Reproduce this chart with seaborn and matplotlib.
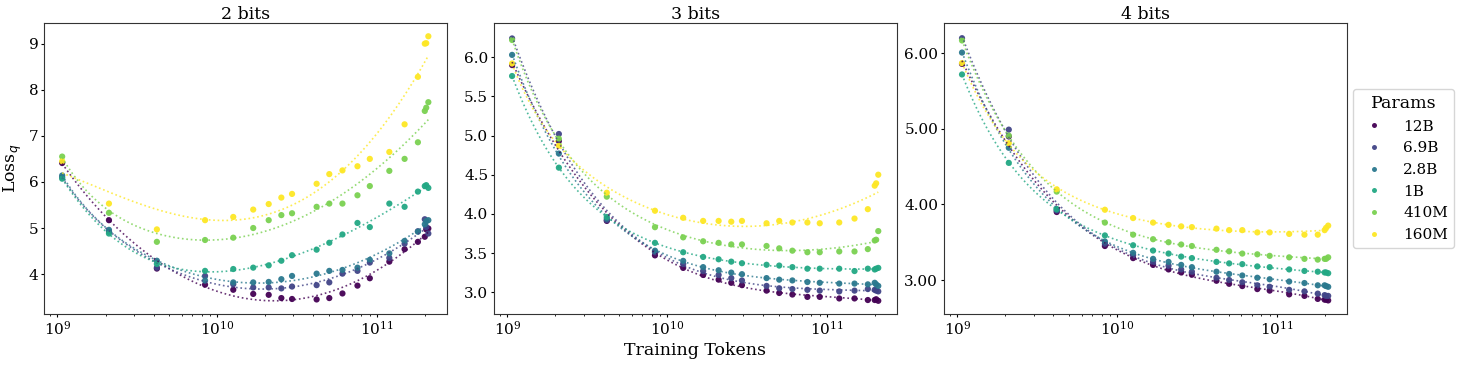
import numpy as np
import pandas as pd
import matplotlib
matplotlib.use("Agg")
import matplotlib.pyplot as plt
from matplotlib.ticker import MultipleLocator, FormatStrFormatter
import seaborn as sns

# training tokens (billions) at each checkpoint
tokens_b = [1.07, 2.10, 4.19, 8.39, 12.6, 16.8, 21.0, 25.2, 29.4, 41.9,
            50.3, 60.8, 75.5, 90.2, 119.5, 148.9, 180.4, 199.2, 203.4, 209.7]

params = ["12B", "6.9B", "2.8B", "1B", "410M", "160M"]

# loss after quantization, 2 bits
loss_2bit = {
    "12B":  [6.41, 5.17, 4.12, 3.77, 3.66, 3.57, 3.55, 3.48, 3.46, 3.45,
             3.48, 3.58, 3.75, 3.91, 4.27, 4.54, 4.70, 4.81, 4.97, 4.99],
    "6.9B": [6.10, 4.92, 4.14, 3.96, 3.78, 3.71, 3.71, 3.69, 3.73, 3.76,
             3.82, 4.01, 4.07, 4.25, 4.35, 4.66, 4.93, 5.19, 5.02, 4.88],
    "2.8B": [6.14, 4.96, 4.29, 3.86, 3.82, 3.82, 3.83, 3.89, 3.96, 4.01,
             4.07, 4.09, 4.14, 4.31, 4.45, 4.72, 4.92, 5.08, 5.15, 5.17],
    "1B":   [6.07, 4.88, 4.22, 4.07, 4.11, 4.14, 4.19, 4.29, 4.41, 4.53,
             4.68, 4.86, 5.11, 5.02, 5.53, 5.46, 5.79, 5.91, 5.93, 5.87],
    "410M": [6.55, 5.33, 4.70, 4.74, 4.79, 5.00, 5.17, 5.28, 5.32, 5.46,
             5.53, 5.53, 5.71, 5.91, 6.24, 6.50, 6.86, 7.54, 7.61, 7.73],
    "160M": [6.45, 5.53, 4.97, 5.17, 5.24, 5.40, 5.52, 5.66, 5.74, 5.96,
             6.17, 6.25, 6.34, 6.50, 6.65, 7.25, 8.28, 9.00, 9.01, 9.16],
}

# 3 bits
loss_3bit = {
    "12B":  [5.90, 4.93, 3.91, 3.47, 3.31, 3.22, 3.16, 3.12, 3.09, 3.02,
             2.99, 2.97, 2.94, 2.94, 2.92, 2.92, 2.90, 2.90, 2.91, 2.89],
    "6.9B": [6.24, 5.02, 3.92, 3.51, 3.36, 3.27, 3.22, 3.18, 3.15, 3.08,
             3.05, 3.04, 3.03, 3.02, 3.01, 3.02, 3.04, 3.03, 3.02, 3.01],
    "2.8B": [6.03, 4.77, 3.94, 3.53, 3.40, 3.32, 3.28, 3.25, 3.23, 3.18,
             3.16, 3.15, 3.13, 3.12, 3.11, 3.11, 3.10, 3.12, 3.10, 3.08],
    "1B":   [5.76, 4.59, 3.96, 3.63, 3.51, 3.45, 3.42, 3.39, 3.37, 3.35,
             3.34, 3.32, 3.30, 3.30, 3.30, 3.27, 3.30, 3.29, 3.30, 3.31],
    "410M": [6.22, 4.96, 4.22, 3.83, 3.70, 3.65, 3.63, 3.61, 3.61, 3.59,
             3.56, 3.53, 3.51, 3.51, 3.52, 3.52, 3.55, 3.66, 3.67, 3.78],
    "160M": [5.92, 4.87, 4.27, 4.04, 3.95, 3.91, 3.91, 3.90, 3.91, 3.88,
             3.91, 3.89, 3.89, 3.88, 3.89, 3.94, 4.06, 4.36, 4.39, 4.50],
}

# 4 bits
loss_4bit = {
    "12B":  [5.86, 4.90, 3.90, 3.45, 3.29, 3.20, 3.14, 3.10, 3.07, 2.99,
             2.95, 2.92, 2.88, 2.86, 2.81, 2.79, 2.75, 2.74, 2.74, 2.73],
    "6.9B": [6.20, 4.99, 3.92, 3.48, 3.33, 3.24, 3.19, 3.14, 3.11, 3.03,
             3.00, 2.97, 2.93, 2.91, 2.87, 2.85, 2.82, 2.80, 2.79, 2.79],
    "2.8B": [6.01, 4.75, 3.93, 3.51, 3.36, 3.28, 3.24, 3.20, 3.17, 3.11,
             3.08, 3.06, 3.03, 3.01, 2.98, 2.96, 2.93, 2.93, 2.92, 2.91],
    "1B":   [5.72, 4.55, 3.94, 3.59, 3.46, 3.39, 3.35, 3.31, 3.29, 3.24,
             3.22, 3.21, 3.18, 3.17, 3.14, 3.12, 3.11, 3.10, 3.10, 3.09],
    "410M": [6.17, 4.91, 4.17, 3.76, 3.60, 3.54, 3.50, 3.47, 3.45, 3.40,
             3.38, 3.35, 3.34, 3.32, 3.30, 3.28, 3.27, 3.28, 3.28, 3.30],
    "160M": [5.87, 4.81, 4.20, 3.93, 3.82, 3.76, 3.73, 3.71, 3.70, 3.68,
             3.66, 3.66, 3.63, 3.63, 3.61, 3.60, 3.60, 3.66, 3.69, 3.72],
}

panels = [("2 bits", loss_2bit), ("3 bits", loss_3bit), ("4 bits", loss_4bit)]

plt.rcParams["font.family"] = ["DejaVu Serif"]
palette = dict(zip(params, plt.cm.viridis(np.linspace(0, 1, len(params)))))


def basis(t_b, alpha):
    # power-law decay plus a slow quadratic drift in log tokens
    u = np.log10(t_b)
    return np.column_stack([np.ones_like(u), t_b ** -alpha, u, u**2])


def fit_curve(t_b, loss, grid_b):
    best = None
    for alpha in np.linspace(0.2, 2.0, 37):
        A = basis(t_b, alpha)
        coef, *_ = np.linalg.lstsq(A, loss, rcond=None)
        err = np.sum((A @ coef - loss) ** 2)
        if best is None or err < best[0]:
            best = (err, alpha, coef)
    _, alpha, coef = best
    return basis(grid_b, alpha) @ coef


fig, axes = plt.subplots(1, 3, figsize=(14.62, 3.66), dpi=100)
fig.subplots_adjust(left=0.030, right=0.921, bottom=0.142, top=0.937, wspace=0.117)

t_arr = np.array(tokens_b)
grid_b = np.logspace(np.log10(t_arr[0]), np.log10(t_arr[-1]), 150)

for i, (ax, (title, losses)) in enumerate(zip(axes, panels)):
    rows = []
    for p in params:
        for t, l in zip(tokens_b, losses[p]):
            rows.append({"tokens": t * 1e9, "loss": l, "Params": p})
    df = pd.DataFrame(rows)

    fits = []
    for p in params:
        yfit = fit_curve(t_arr, np.array(losses[p]), grid_b)
        fits.append(pd.DataFrame({"tokens": grid_b * 1e9, "loss": yfit, "Params": p}))
    fit_df = pd.concat(fits)

    sns.lineplot(data=fit_df, x="tokens", y="loss", hue="Params", hue_order=params,
                 palette=palette, linestyle=":", linewidth=1.2, alpha=0.8,
                 legend=False, ax=ax)
    sns.scatterplot(data=df, x="tokens", y="loss", hue="Params", hue_order=params,
                    palette=palette, s=20, linewidth=0, alpha=0.95,
                    legend=(i == 2), ax=ax)
    ax.set_xscale("log")
    ax.set_title(title, fontsize=12.5, pad=3)
    ax.set_xlabel("Training Tokens" if i == 1 else "", fontsize=12.5, labelpad=3)
    ax.set_ylabel(r"Loss$_q$" if i == 0 else "", fontsize=12.5, labelpad=3)
    ax.tick_params(which="major", labelsize=11, length=2.2, pad=1.8)
    ax.tick_params(which="minor", length=1.3)
    for sp in ax.spines.values():
        sp.set_color("#333333")

axes[0].yaxis.set_major_locator(MultipleLocator(1))
axes[1].yaxis.set_major_locator(MultipleLocator(0.5))
axes[1].yaxis.set_major_formatter(FormatStrFormatter("%.1f"))
axes[2].yaxis.set_major_locator(MultipleLocator(1))
axes[2].yaxis.set_major_formatter(FormatStrFormatter("%.2f"))

leg = axes[2].legend(title="Params", loc="center left", bbox_to_anchor=(1.0, 0.5),
                     fontsize=11, title_fontsize=12.5, handletextpad=0.9,
                     borderaxespad=0.4, markerscale=0.8)

fig.savefig("out.png", dpi=100)
